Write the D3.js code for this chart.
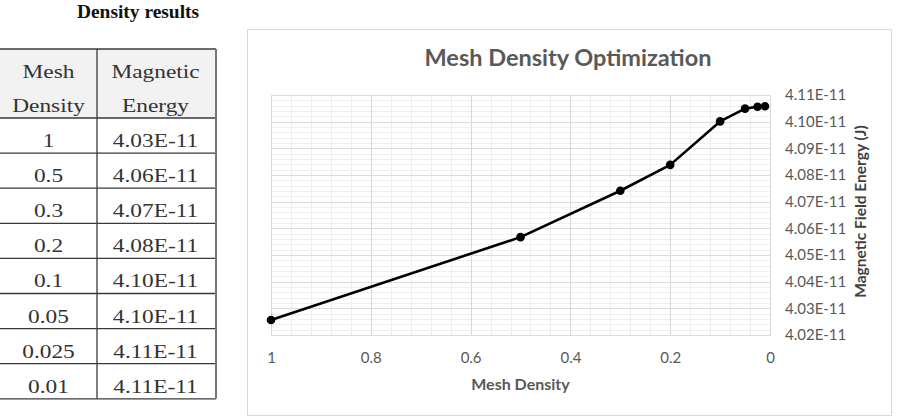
<!DOCTYPE html>
<html>
<head>
<meta charset="utf-8">
<script src="https://cdn.jsdelivr.net/npm/d3@7"></script>
<style>
  body { margin: 0; background: #fff; }
  svg { display: block; }
</style>
</head>
<body>
<svg id="page" width="903" height="416"></svg>
<script>
// data
const density = [1, 0.5, 0.3, 0.2, 0.1, 0.05, 0.025, 0.01];
// magnetic field energy, in units of 1E-11 J (as plotted)
const energy = [4.0256, 4.0567, 4.0741, 4.0838, 4.1001, 4.1049, 4.1056, 4.1058];
// the table column, as printed
const densityLabels = ["1", "0.5", "0.3", "0.2", "0.1", "0.05", "0.025", "0.01"];
const energyLabels = ["4.03E-11", "4.06E-11", "4.07E-11", "4.08E-11", "4.10E-11", "4.10E-11", "4.11E-11", "4.11E-11"];
const headerLines = [["Mesh", "Density"], ["Magnetic", "Energy"]];
const xTickValues = [1, 0.8, 0.6, 0.4, 0.2, 0];
const yTickValues = [4.02, 4.03, 4.04, 4.05, 4.06, 4.07, 4.08, 4.09, 4.10, 4.11];

const svg = d3.select('#page');

// ---------- table on the left ----------
const serif = "'Liberation Serif', 'Times New Roman', serif";
const stretch = 1.23;   // the scan is a bit wide
const colX = [-4, 97, 216];
const headTop = 49, headBottom = 118, rowH = 35.1;

svg.append('text')
  .attr('transform', 'translate(138,18) scale(1.08,1)')
  .attr('text-anchor', 'middle')
  .style('font-family', serif).style('font-weight', 'bold').style('font-size', '18px')
  .attr('fill', '#111')
  .text('Density results');

const table = svg.append('g');
table.append('rect')
  .attr('x', colX[0]).attr('y', headTop)
  .attr('width', colX[2] - colX[0]).attr('height', headBottom - headTop)
  .attr('fill', '#f2f2f2');

const rowTop = i => headBottom + i * rowH;
const nRows = densityLabels.length;
const tableBottom = rowTop(nRows);

// horizontal rules
[headTop, headBottom].concat(d3.range(1, nRows + 1).map(rowTop)).forEach(y => {
  table.append('line').attr('x1', colX[0]).attr('x2', colX[2])
    .attr('y1', y).attr('y2', y).attr('stroke', '#3a3a3a').attr('stroke-width', 1.3);
});
// vertical rules
table.append('line').attr('x1', colX[1]).attr('x2', colX[1])
  .attr('y1', headTop).attr('y2', tableBottom).attr('stroke', '#3a3a3a').attr('stroke-width', 1.3);
table.append('line').attr('x1', colX[2]).attr('x2', colX[2])
  .attr('y1', headTop).attr('y2', tableBottom).attr('stroke', '#777').attr('stroke-width', 2);

const colCenter = [48.5, 155.5];
function cellText(x, y, s) {
  table.append('text')
    .attr('transform', 'translate(' + x + ',' + y + ') scale(' + stretch + ',1)')
    .attr('text-anchor', 'middle')
    .style('font-family', serif).style('font-size', '19px')
    .attr('fill', '#333')
    .text(s);
}
headerLines.forEach((lines, c) => {
  cellText(colCenter[c], 78, lines[0]);
  cellText(colCenter[c], 112, lines[1]);
});
densityLabels.forEach((s, i) => {
  cellText(colCenter[0], rowTop(i) + 29, s);
  cellText(colCenter[1], rowTop(i) + 29, energyLabels[i]);
});

// ---------- chart on the right ----------
const sans = "Lato, 'Open Sans', sans-serif";
const grey = '#595959';

svg.append('rect')
  .attr('x', 247.5).attr('y', 29.5).attr('width', 644).attr('height', 386)
  .attr('fill', '#fff').attr('stroke', '#d9d9d9');

const plot = { left: 271, right: 770, top: 95, bottom: 336 };

const x = d3.scaleLinear().domain([1, 0]).range([plot.left, plot.right]);
const y = d3.scaleLinear().domain([4.02, 4.11]).range([plot.bottom - 1, plot.top]);

const grid = svg.append('g');
// minor grid
const xMinor = d3.range(0, 26).map(i => i * 0.04);
const yMinor = d3.range(0, 46).map(i => 4.02 + i * 0.002);
grid.selectAll('line.xminor').data(xMinor).join('line')
  .attr('class', 'xminor')
  .attr('x1', d => Math.round(x(d)) + 0.5).attr('x2', d => Math.round(x(d)) + 0.5)
  .attr('y1', plot.top).attr('y2', plot.bottom)
  .attr('stroke', '#ededed');
grid.selectAll('line.yminor').data(yMinor).join('line')
  .attr('class', 'yminor')
  .attr('y1', d => Math.round(y(d)) + 0.5).attr('y2', d => Math.round(y(d)) + 0.5)
  .attr('x1', plot.left).attr('x2', plot.right)
  .attr('stroke', '#f0f0f0');
// major grid
grid.selectAll('line.xmajor').data(xTickValues).join('line')
  .attr('class', 'xmajor')
  .attr('x1', d => Math.round(x(d)) + 0.5).attr('x2', d => Math.round(x(d)) + 0.5)
  .attr('y1', plot.top).attr('y2', plot.bottom)
  .attr('stroke', '#d9d9d9');
grid.selectAll('line.ymajor').data(yTickValues).join('line')
  .attr('class', 'ymajor')
  .attr('y1', d => Math.round(y(d)) + 0.5).attr('y2', d => Math.round(y(d)) + 0.5)
  .attr('x1', plot.left).attr('x2', plot.right)
  .attr('stroke', '#dcdcdc');

// axes (labels only)
const xAxis = svg.append('g')
  .attr('transform', 'translate(0,' + plot.bottom + ')')
  .call(d3.axisBottom(x).tickValues(xTickValues).tickSize(0).tickPadding(16)
    .tickFormat(d => d3.format('~g')(d)));
const yAxis = svg.append('g')
  .attr('transform', 'translate(' + plot.right + ',0)')
  .call(d3.axisRight(y).tickValues(yTickValues).tickSize(0).tickPadding(15)
    .tickFormat(d => d.toFixed(2) + 'E-11'));
[xAxis, yAxis].forEach(a => {
  a.select('.domain').remove();
  a.selectAll('text').style('font-family', sans).style('font-size', '15px').attr('fill', grey);
});

// series
const pts = density.map((d, i) => [d, energy[i]]);
svg.append('path')
  .datum(pts)
  .attr('fill', 'none').attr('stroke', '#000').attr('stroke-width', 2.6)
  .attr('stroke-linejoin', 'round')
  .attr('d', d3.line().x(d => x(d[0])).y(d => y(d[1])));
svg.selectAll('circle.pt').data(pts).join('circle')
  .attr('class', 'pt')
  .attr('cx', d => x(d[0])).attr('cy', d => y(d[1])).attr('r', 4.3)
  .attr('fill', '#000');

// titles
svg.append('text')
  .attr('x', 568).attr('y', 66)
  .attr('text-anchor', 'middle')
  .style('font-family', sans).style('font-weight', 'bold').style('font-size', '23.5px')
  .attr('fill', grey)
  .text('Mesh Density Optimization');
svg.append('text')
  .attr('x', (plot.left + plot.right) / 2).attr('y', 390)
  .attr('text-anchor', 'middle')
  .style('font-family', sans).style('font-weight', 'bold').style('font-size', '16px')
  .attr('fill', grey)
  .text('Mesh Density');
svg.append('text')
  .attr('transform', 'translate(866,' + ((plot.top + plot.bottom) / 2 - 4) + ') rotate(-90)')
  .attr('text-anchor', 'middle')
  .style('font-family', sans).style('font-weight', 'bold').style('font-size', '15.5px')
  .attr('fill', '#404040')
  .text('Magnetic  Field Energy (J)');
</script>
</body>
</html>
